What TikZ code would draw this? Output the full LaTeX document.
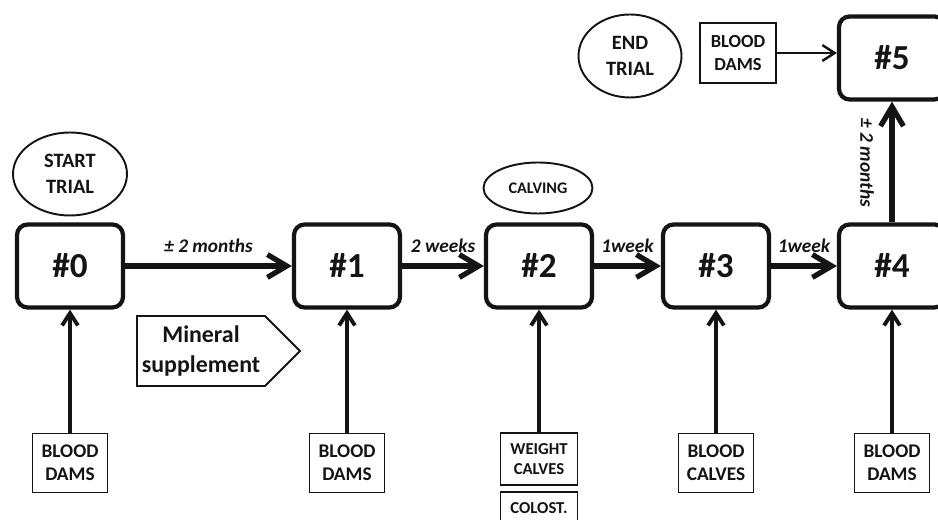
\documentclass[tikz,border=0pt]{standalone}
\usepackage{fontspec}
\setmainfont{Carlito}
\usetikzlibrary{shapes.geometric, shapes.symbols, arrows.meta}
\definecolor{inkBlack}{RGB}{20, 20, 20}

\begin{document}
\begin{tikzpicture}[
  stage/.style={
    rectangle,
    draw=inkBlack,
    line width=2.4pt,
    rounded corners=6pt,
    minimum width=2.12cm,
    minimum height=1.66cm,
    font=\fontsize{20}{24}\selectfont\bfseries,
    text=inkBlack
  },
  event/.style={ellipse, draw=inkBlack, line width=1.1pt, inner sep=0pt,
    align=center, font=\fontsize{11.6}{15}\selectfont\bfseries, text=inkBlack},
  sample/.style={
    rectangle,
    draw=inkBlack,
    line width=1.1pt,
    minimum width=1.50cm,
    minimum height=1.18cm,
    inner sep=1pt,
    align=center,
    font=\fontsize{11}{13}\selectfont\bfseries,
    text=inkBlack
  },
  period/.style={font=\fontsize{11}{13}\selectfont\bfseries\itshape, text=inkBlack},
  flow/.style={draw=inkBlack, line width=3pt,
    -{Straight Barb[length=11pt, width=13pt]}},
  feed/.style={draw=inkBlack, line width=2.2pt,
    -{Straight Barb[length=7pt, width=9pt]}},
  thinfeed/.style={draw=inkBlack, line width=1.4pt,
    -{Straight Barb[length=7pt, width=9pt]}}
]
  \useasboundingbox (0,0) rectangle (18.76,10.4);
  \clip (0,0) rectangle (18.76,10.4);

  % ── Stades de prélèvement ─────────────────────────────────────
  \node[stage] (s0) at ( 1.40, 5.08) {\#0};
  \node[stage] (s1) at ( 6.94, 5.08) {\#1};
  \node[stage] (s2) at (10.78, 5.08) {\#2};
  \node[stage] (s3) at (14.32, 5.08) {\#3};
  \node[stage] (s4) at (17.84, 5.08) {\#4};
  \node[stage] (s5) at (17.84, 9.24) {\#5};

  % ── Événements ────────────────────────────────────────────────
  \node[event, minimum width=2.28cm, minimum height=1.66cm] (start)   at ( 1.40, 6.92) {START\\TRIAL};
  \node[event, minimum width=2.18cm, minimum height=1.02cm,
        font=\fontsize{9.2}{10}\selectfont\bfseries]      (calving) at (10.76, 6.64) {CALVING};
  \node[event, minimum width=2.06cm, minimum height=1.66cm] (end)     at (12.60, 9.28) {END\\TRIAL};

  \node[signal, signal to=east, signal pointer angle=90, draw=inkBlack, line width=1.1pt,
        minimum width=3.26cm, minimum height=1.40cm, inner sep=1pt, align=center,
        font=\fontsize{13.6}{16.7}\selectfont\bfseries, text=inkBlack]
        (mineral) at (4.02, 3.38) {Mineral\\supplement};

  % ── Prélèvements ──────────────────────────────────────────────
  \node[sample] (b0) at ( 1.40, 1.14) {BLOOD\\DAMS};
  \node[sample] (b1) at ( 6.94, 1.14) {BLOOD\\DAMS};
  \node[sample, minimum width=1.54cm, minimum height=1.04cm,
        font=\fontsize{9.5}{11}\selectfont\bfseries] (b2) at (10.78, 1.22) {WEIGHT\\CALVES};
  \node[sample, minimum width=1.54cm, minimum height=0.64cm,
        font=\fontsize{9.5}{11}\selectfont\bfseries] (b2c) at (10.78, 0.24) {COLOST.};
  \node[sample] (b3) at (14.32, 1.14) {BLOOD\\CALVES};
  \node[sample] (b4) at (17.84, 1.14) {BLOOD\\DAMS};
  \node[sample, minimum width=1.52cm, minimum height=1.20cm,
        font=\fontsize{10.5}{13}\selectfont\bfseries] (b5) at (14.76, 9.34) {BLOOD\\DAMS};

  % ── Chronologie ───────────────────────────────────────────────
  \draw[flow] (s0.east) -- node[period, above=3pt] (p01) {± 2 months} (s1.west);
  \draw[flow] (s1.east) -- node[period, above=3pt] (p12) {2 weeks} (s2.west);
  \draw[flow] (s2.east) -- node[period, above=3pt] (p23) {1week} (s3.west);
  \draw[flow] (s3.east) -- node[period, above=3pt] (p34) {1week} (s4.west);
  \draw[flow] (s4.north) -- (s5.south);
  \node[period, rotate=-90] (p45) at (17.34, 7.14) {± 2 months};

  % ── Liens prélèvement -> stade ────────────────────────────────
  \foreach \B/\S in {b0/s0, b1/s1, b2/s2, b3/s3, b4/s4}
    \draw[feed] (\B.north) -- (\S.south);
  \draw[thinfeed] (b5.east) -- (b5.east -| s5.west);

\end{tikzpicture}
\end{document}
